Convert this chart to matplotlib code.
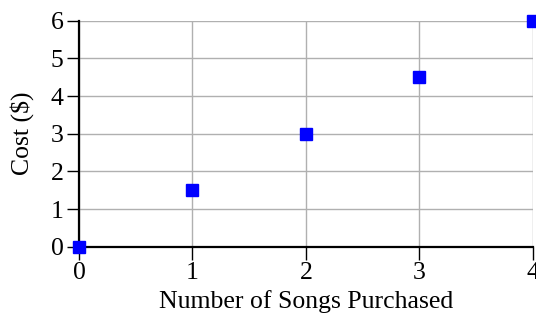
import matplotlib
matplotlib.use('Agg')
import matplotlib.pyplot as plt

songs = [0, 1, 2, 3, 4]
cost = [0, 1.5, 3, 4.5, 6]
x_ticks = [0, 1, 2, 3, 4]
y_ticks = [0, 1, 2, 3, 4, 5, 6]

plt.rcParams['font.family'] = ['Liberation Serif', 'DejaVu Serif']

fig = plt.figure(figsize=(5.36, 3.14), dpi=100)
ax = fig.add_axes([0.1474, 0.2134, 0.8464, 0.7213])

ax.plot(songs, cost, 's', color='#0000ff', markersize=8, clip_on=False, zorder=5)

ax.set_xlim(0, 4)
ax.set_ylim(0, 6)
ax.set_xticks(x_ticks)
ax.set_yticks(y_ticks)
ax.grid(True, color='#b0b0b0', linewidth=1)
ax.set_axisbelow(True)

for s in ['top', 'right']:
    ax.spines[s].set_visible(False)
for s in ['left', 'bottom']:
    ax.spines[s].set_linewidth(1.6)
    ax.spines[s].set_color('black')

ax.tick_params(axis='both', direction='out', length=9, width=1, labelsize=18.5, pad=2)
ax.set_xlabel('Number of Songs Purchased', fontsize=18.5, labelpad=4)
ax.set_ylabel('Cost ($)', fontsize=18.5, labelpad=12)

fig.savefig('out.png', dpi=100)
